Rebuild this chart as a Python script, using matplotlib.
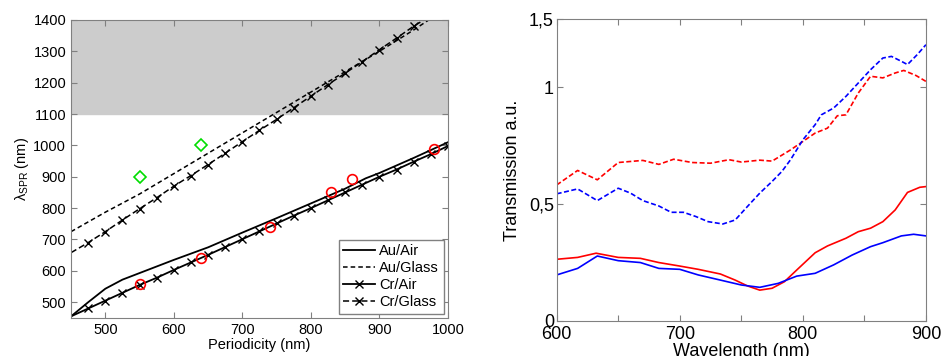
import numpy as np
import matplotlib.pyplot as plt

plt.rcParams["font.family"] = ["Liberation Sans", "DejaVu Sans"]

# left panel: resonance wavelength vs periodicity
p_au_air = [450, 475, 500, 525, 550, 600, 650, 700, 750, 800, 850, 880, 900, 950, 1000]
au_air = [455, 500, 543, 572, 593, 635, 675, 722, 768, 815, 862, 895, 912, 960, 1010]

p_au_glass = [450, 500, 550, 600, 650, 700, 750, 800, 850, 900, 950, 972]
au_glass = [725, 787, 845, 910, 975, 1040, 1105, 1170, 1235, 1300, 1368, 1400]

p_cr = [475, 500, 525, 550, 575, 600, 625, 650, 675, 700, 725, 750, 775, 800,
        825, 850, 875, 900, 925, 950, 975, 1000]
cr_air = [480, 505, 530, 555, 578, 603, 627, 651, 676, 701, 726, 751, 776, 800,
          825, 850, 875, 900, 923, 948, 972, 998]

p_cr_glass = [475, 500, 525, 550, 575, 600, 625, 650, 675, 700, 725, 750, 775,
              800, 825, 850, 875, 900, 925, 950]
cr_glass = [690, 725, 762, 798, 833, 870, 904, 939, 975, 1012, 1048, 1083, 1120,
            1157, 1194, 1230, 1267, 1305, 1342, 1380]

exp_air_x = [550, 640, 740, 830, 860, 980]
exp_air_y = [557, 640, 740, 850, 893, 990]
exp_glass_x = [550, 640]
exp_glass_y = [900, 1000]

# right panel: transmission spectra
wl_rd = [600, 617, 633, 650, 670, 683, 695, 710, 725, 740, 750, 765, 775, 790, 800,
         810, 820, 828, 835, 845, 855, 865, 875, 882, 892, 900]
red_dash = [0.581, 0.643, 0.603, 0.677, 0.686, 0.669, 0.691, 0.677, 0.674, 0.689,
            0.679, 0.687, 0.683, 0.731, 0.767, 0.803, 0.824, 0.877, 0.881, 0.974,
            1.046, 1.039, 1.06, 1.071, 1.049, 1.024]

wl_bd = [600, 617, 633, 650, 660, 670, 683, 693, 703, 713, 723, 735, 745, 755, 765,
         775, 783, 790, 800, 810, 815, 825, 835, 845, 855, 865, 872, 880, 885, 893, 900]
blue_dash = [0.543, 0.564, 0.514, 0.567, 0.546, 0.514, 0.491, 0.464, 0.464, 0.446,
             0.424, 0.414, 0.431, 0.489, 0.546, 0.596, 0.639, 0.689, 0.774, 0.839,
             0.881, 0.91, 0.96, 1.017, 1.074, 1.124, 1.131, 1.11, 1.096, 1.139, 1.181]

wl_rs = [600, 617, 632, 650, 668, 683, 700, 715, 733, 745, 755, 765, 775, 785, 795,
         810, 820, 835, 845, 855, 865, 875, 885, 895, 900]
red_solid = [0.263, 0.271, 0.289, 0.271, 0.267, 0.249, 0.234, 0.22, 0.2, 0.174,
             0.149, 0.131, 0.139, 0.167, 0.217, 0.291, 0.32, 0.353, 0.381, 0.396,
             0.424, 0.474, 0.549, 0.571, 0.574]

wl_bs = [600, 617, 633, 650, 668, 683, 700, 715, 733, 750, 765, 780, 795, 810, 825,
         840, 855, 865, 880, 890, 900]
blue_solid = [0.196, 0.224, 0.277, 0.257, 0.249, 0.224, 0.22, 0.196, 0.174, 0.153,
              0.143, 0.16, 0.191, 0.203, 0.239, 0.281, 0.317, 0.334, 0.363, 0.37, 0.363]

fig = plt.figure(figsize=(9.41, 3.56), dpi=100)
ax1 = fig.add_axes([0.0755, 0.107, 0.4005, 0.837])
ax2 = fig.add_axes([0.5916, 0.099, 0.3924, 0.847])

grey = "#808080"
for ax in (ax1, ax2):
    for s in ax.spines.values():
        s.set_color(grey)
    ax.tick_params(direction="in", top=True, right=True, color=grey, length=4)

ax1.axhspan(1100, 1400, color="#cccccc", zorder=0)
ax1.plot(p_au_air, au_air, "k-", lw=1.3, label="Au/Air")
ax1.plot(p_au_glass, au_glass, "k--", lw=1.1, dashes=(3, 2), label="Au/Glass")
ax1.plot([450] + p_cr, [455] + cr_air, "k-", lw=1.3, marker="x", ms=6,
         markevery=list(range(1, len(p_cr) + 1)), label="Cr/Air")
ax1.plot([450] + p_cr_glass + [965], [658] + cr_glass + [1400], "k--", lw=1.1,
         dashes=(4, 2), marker="x", ms=6,
         markevery=list(range(1, len(p_cr_glass) + 1)), label="Cr/Glass")
ax1.plot(exp_air_x, exp_air_y, "o", mfc="none", mec="red", ms=7, mew=1.2)
ax1.plot(exp_glass_x, exp_glass_y, "D", mfc="none", mec="#00dd00", ms=6, mew=1.2)

ax1.set_xlim(450, 1000)
ax1.set_ylim(450, 1400)
ax1.set_xticks([500, 600, 700, 800, 900, 1000])
ax1.set_yticks(np.arange(500, 1401, 100))
ax1.tick_params(labelsize=10.5)
ax1.set_xlabel("Periodicity (nm)", fontsize=10.5, labelpad=1)
ax1.set_ylabel(r"$\mathregular{\lambda_{SPR}}$ (nm)", fontsize=10.5, labelpad=2)
leg = ax1.legend(loc="lower right", fontsize=10.5, fancybox=False, framealpha=1,
                 edgecolor=grey, handlelength=2.2, borderaxespad=0.3,
                 labelspacing=0.2, handletextpad=0.3, borderpad=0.3)

ax2.plot(wl_rd, red_dash, color="red", ls="--", dashes=(3, 1.5), lw=1.2)
ax2.plot(wl_bd, blue_dash, color="blue", ls="--", dashes=(3, 1.5), lw=1.2)
ax2.plot(wl_rs, red_solid, color="red", lw=1.2)
ax2.plot(wl_bs, blue_solid, color="blue", lw=1.2)
ax2.set_xlim(600, 900)
ax2.set_ylim(0, 1.29)
ax2.set_xticks(np.arange(600, 901, 50))
ax2.set_xticklabels(["600", "", "700", "", "800", "", "900"])
ax2.set_yticks([0, 0.5, 1, 1.29])
ax2.set_yticklabels(["0", "0,5", "1", "1,5"])
ax2.tick_params(labelsize=13, pad=2)
ax2.tick_params(axis="x", pad=4)
ax2.set_xlabel("Wavelength (nm)", fontsize=13, labelpad=0)
ax2.set_ylabel("Transmission a.u.", fontsize=13, labelpad=6)

fig.savefig("out.png", dpi=100)
